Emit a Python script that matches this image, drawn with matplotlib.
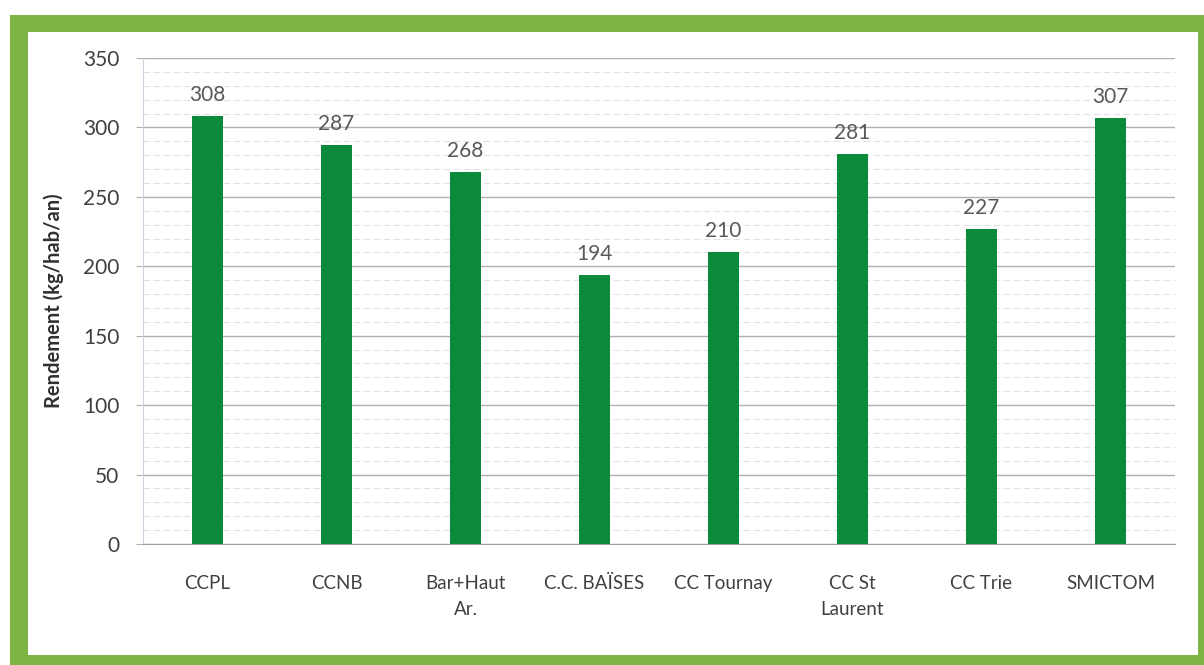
import matplotlib
matplotlib.use("Agg")
import matplotlib.pyplot as plt
from matplotlib.patches import Rectangle
from matplotlib.ticker import MultipleLocator

categories = ["CCPL", "CCNB", "Bar+Haut\nAr.", "C.C. BAÏSES", "CC Tournay",
              "CC St\nLaurent", "CC Trie", "SMICTOM"]
values = [308, 287, 268, 194, 210, 281, 227, 307]
yticks = [0, 50, 100, 150, 200, 250, 300, 350]

plt.rcParams['font.family'] = ['Lato', 'DejaVu Sans']

W, H = 1204, 665
fig = plt.figure(figsize=(W / 100, H / 100), dpi=100)
fig.patch.set_facecolor("white")

# green frame in a background axes
bg = fig.add_axes([0, 0, 1, 1], zorder=-10)
bg.set_xlim(0, W)
bg.set_ylim(H, 0)
bg.axis("off")
frame_col = "#7db544"
bg.add_patch(Rectangle((10, 15), W - 10, H - 15, facecolor=frame_col,
                       edgecolor="none"))
bg.add_patch(Rectangle((28, 32), 1198 - 28, 655 - 32, facecolor="white",
                       edgecolor="none"))

ax = fig.add_axes([143 / W, 1 - 544 / H, (1175 - 143) / W, (544 - 58) / H],
                  zorder=1)
ax.set_facecolor("none")
x = list(range(len(categories)))
ax.bar(x, values, width=0.24, color="#0b8a3a", zorder=3)
for xi, v in zip(x, values):
    ax.text(xi, v + 8, str(v), ha="center", va="bottom", fontsize=15,
            color="#595959", zorder=4)

ax.set_xlim(-0.5, len(categories) - 0.5)
ax.set_ylim(0, 350)
ax.set_yticks(yticks)
ax.yaxis.set_minor_locator(MultipleLocator(10))
ax.grid(axis="y", which="major", color="#b0b0b0", linewidth=1.0, zorder=1)
ax.grid(axis="y", which="minor", color="#e2e2e2", linewidth=0.8,
        linestyle=(0, (6, 3)), zorder=1)
ax.set_axisbelow(True)
ax.tick_params(axis="y", which="minor", length=0)
ax.tick_params(axis="y", which="major", length=5, color="#b0b0b0",
               labelsize=15, labelcolor="#404040", pad=12)
ax.tick_params(axis="x", length=0, labelsize=13.5, labelcolor="#404040", pad=22)
ax.set_xticks(x)
ax.set_xticklabels(categories, linespacing=1.7)

for s in ["top", "right"]:
    ax.spines[s].set_visible(False)
ax.spines["left"].set_color("#d0d0e0")
ax.spines["bottom"].set_color("#a0a0a0")

ax.set_ylabel("Rendement (kg/hab/an)", fontsize=14.5, fontweight="bold",
              color="#303030", labelpad=14)

fig.savefig("out.png", dpi=100, facecolor=fig.get_facecolor())
